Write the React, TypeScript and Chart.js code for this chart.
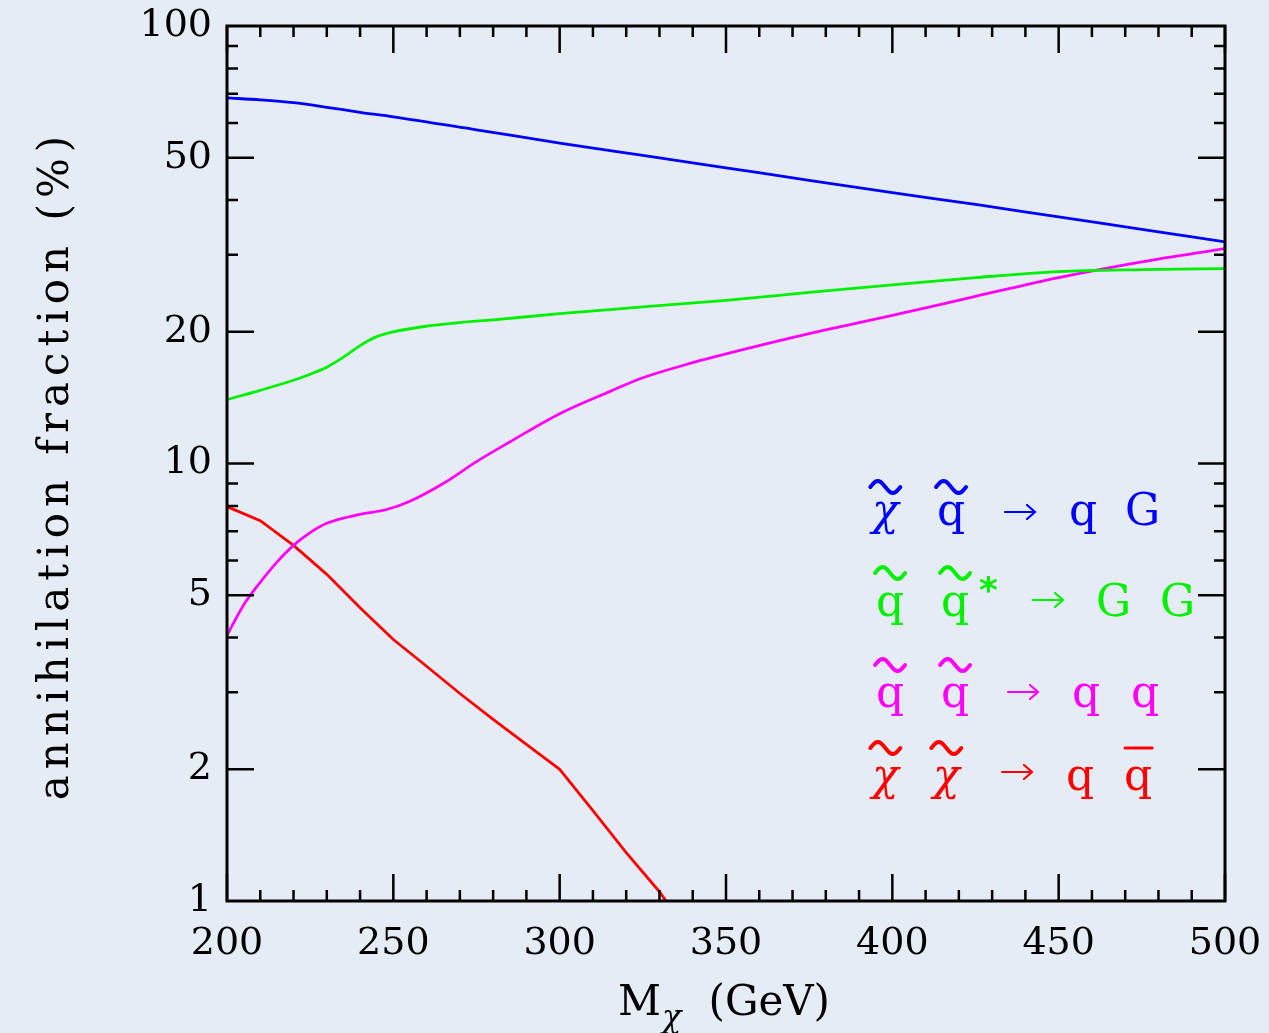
import React, { useEffect, useRef } from 'react';
import { Chart, registerables } from 'chart.js';

Chart.register(...registerables);

// ---- data ----
const blueMass = [200, 210, 220, 230, 240, 250, 275, 300, 325, 350, 375, 400, 425, 450, 475, 500];
const blueFraction = [68.5, 67.8, 66.8, 65.2, 63.5, 62.0, 57.9, 54.0, 50.6, 47.4, 44.4, 41.6, 39.1, 36.6, 34.3, 32.1];

const greenMass = [200, 210, 220, 225, 230, 235, 240, 245, 250, 260, 270, 280, 300, 325, 350, 375, 400, 425, 450, 475, 500];
const greenFraction = [14.0, 14.7, 15.5, 16.0, 16.6, 17.5, 18.6, 19.5, 20.0, 20.6, 21.0, 21.3, 22.0, 22.8, 23.6, 24.6, 25.6, 26.6, 27.45, 27.75, 27.9];

const magentaMass = [200, 205, 210, 215, 220, 225, 230, 240, 248, 255, 265, 275, 285, 300, 315, 325, 340, 350, 375, 400, 425, 450, 475, 500];
const magentaFraction = [4.05, 4.75, 5.35, 5.95, 6.5, 6.95, 7.3, 7.65, 7.85, 8.2, 9.0, 10.1, 11.2, 13.0, 14.6, 15.7, 17.0, 17.8, 19.8, 21.8, 24.1, 26.6, 28.9, 31.0];

const redMass = [200, 210, 220, 230, 240, 250, 260, 270, 280, 290, 300, 310, 320, 330, 340];
const redFraction = [7.97, 7.4, 6.5, 5.58, 4.68, 3.96, 3.44, 2.98, 2.6, 2.28, 2.0, 1.61, 1.29, 1.05, 0.82];

const xTickLabels = [200, 250, 300, 350, 400, 450, 500];
const yTickLabels = [1, 2, 5, 10, 20, 50, 100];
const xMinorTicks = [210, 220, 230, 240, 260, 270, 280, 290, 310, 320, 330, 340, 360, 370, 380, 390, 410, 420, 430, 440, 460, 470, 480, 490];
const yMinorTicks = [3, 4, 6, 7, 8, 9, 30, 40, 60, 70, 80, 90];
const yMajorTicks = [2, 5, 10, 20, 50];

const xTitleMain = 'M';
const xTitleSub = 'χ';
const xTitleUnit = '(GeV)';
const yTitle = 'annihilation fraction (%)';

const BLUE = '#0000ff';
const GREEN = '#00f000';
const MAGENTA = '#ff00ff';
const RED = '#ff0000';

const toPoints = (xs: number[], ys: number[]) => xs.map((x, i) => ({ x, y: ys[i] }));

const SERIF = '"DejaVu Serif", serif';

function drawTilde(ctx: CanvasRenderingContext2D, x0: number, cy: number, w: number) {
  ctx.beginPath();
  const n = 24;
  for (let i = 0; i <= n; i++) {
    const t = i / n;
    const x = x0 + t * w;
    const y = cy - 6 * Math.sin(2 * Math.PI * t);
    if (i === 0) ctx.moveTo(x, y);
    else ctx.lineTo(x, y);
  }
  ctx.stroke();
}

function drawArrow(ctx: CanvasRenderingContext2D, x0: number, cy: number, w: number) {
  ctx.lineWidth = 2.2;
  ctx.beginPath();
  ctx.moveTo(x0, cy);
  ctx.lineTo(x0 + w, cy);
  ctx.moveTo(x0 + w - 8, cy - 7);
  ctx.lineTo(x0 + w, cy);
  ctx.lineTo(x0 + w - 8, cy + 7);
  ctx.stroke();
}

const framePlugin = {
  id: 'frameTicks',
  afterDatasetsDraw(chart: any) {
    const { ctx, chartArea, scales } = chart;
    const { left, right, top, bottom } = chartArea;
    const xs = scales.x;
    const ys = scales.y;
    ctx.save();
    ctx.strokeStyle = '#000';
    ctx.lineCap = 'butt';
    ctx.lineWidth = 2.5;
    const major = 27;
    const minor = 11;
    ctx.beginPath();
    xTickLabels.forEach((v) => {
      const px = xs.getPixelForValue(v);
      ctx.moveTo(px, bottom); ctx.lineTo(px, bottom - major);
      ctx.moveTo(px, top); ctx.lineTo(px, top + major);
    });
    xMinorTicks.forEach((v) => {
      const px = xs.getPixelForValue(v);
      ctx.moveTo(px, bottom); ctx.lineTo(px, bottom - minor);
      ctx.moveTo(px, top); ctx.lineTo(px, top + minor);
    });
    yMajorTicks.forEach((v) => {
      const py = ys.getPixelForValue(v);
      ctx.moveTo(left, py); ctx.lineTo(left + major, py);
      ctx.moveTo(right, py); ctx.lineTo(right - major, py);
    });
    yMinorTicks.forEach((v) => {
      const py = ys.getPixelForValue(v);
      ctx.moveTo(left, py); ctx.lineTo(left + minor, py);
      ctx.moveTo(right, py); ctx.lineTo(right - minor, py);
    });
    ctx.stroke();
    ctx.lineWidth = 3;
    ctx.strokeRect(left, top, right - left, bottom - top);

    // axis titles
    ctx.fillStyle = '#000';
    ctx.textBaseline = 'alphabetic';
    ctx.textAlign = 'left';
    ctx.font = `42px ${SERIF}`;
    ctx.fillText(xTitleMain, 618, 1015);
    const mW = ctx.measureText(xTitleMain).width;
    ctx.font = `italic 32px ${SERIF}`;
    ctx.fillText(xTitleSub, 618 + mW + 1, 1027);
    ctx.font = `42px ${SERIF}`;
    ctx.textAlign = 'right';
    ctx.fillText(xTitleUnit, 830, 1015);

    ctx.save();
    ctx.translate(68, 465);
    ctx.rotate(-Math.PI / 2);
    ctx.font = `42px ${SERIF}`;
    (ctx as any).letterSpacing = '6px';
    ctx.textAlign = 'center';
    ctx.fillText(yTitle, 0, 0);
    ctx.restore();
    ctx.restore();
  },
};

type Glyph = { t: string; x: number; font?: string; tilde?: boolean; bar?: boolean; dy?: number; arrow?: boolean };
type Row = { color: string; base: number; tildeY: number; arrowY: number; glyphs: Glyph[] };

const Q = `44px ${SERIF}`;
const G = `44px ${SERIF}`;
const CHI = `italic 44px ${SERIF}`;
const STAR = `bold 36px "DejaVu Sans", sans-serif`;

const legendRows: Row[] = [
  {
    color: BLUE, base: 525, tildeY: 487, arrowY: 512,
    glyphs: [
      { t: 'χ', x: 872, font: CHI, tilde: true },
      { t: 'q', x: 937, font: Q, tilde: true },
      { t: '→', x: 1005, arrow: true },
      { t: 'q', x: 1069, font: Q },
      { t: 'G', x: 1125, font: G },
    ],
  },
  {
    color: GREEN, base: 616, tildeY: 573, arrowY: 600,
    glyphs: [
      { t: 'q', x: 876, font: Q, tilde: true },
      { t: 'q', x: 941, font: Q, tilde: true },
      { t: '*', x: 979, font: STAR, dy: -14 },
      { t: '→', x: 1033, arrow: true },
      { t: 'G', x: 1096, font: G },
      { t: 'G', x: 1160, font: G },
    ],
  },
  {
    color: MAGENTA, base: 707, tildeY: 665, arrowY: 692,
    glyphs: [
      { t: 'q', x: 876, font: Q, tilde: true },
      { t: 'q', x: 941, font: Q, tilde: true },
      { t: '→', x: 1008, arrow: true },
      { t: 'q', x: 1072, font: Q },
      { t: 'q', x: 1131, font: Q },
    ],
  },
  {
    color: RED, base: 790, tildeY: 748, arrowY: 772,
    glyphs: [
      { t: 'χ', x: 872, font: CHI, tilde: true },
      { t: 'χ', x: 933, font: CHI, tilde: true },
      { t: '→', x: 1002, arrow: true },
      { t: 'q', x: 1066, font: Q },
      { t: 'q', x: 1124, font: Q, bar: true },
    ],
  },
];

const legendPlugin = {
  id: 'processLegend',
  afterDraw(chart: any) {
    const ctx: CanvasRenderingContext2D = chart.ctx;
    ctx.save();
    ctx.textAlign = 'left';
    ctx.lineCap = 'round';
    legendRows.forEach((row) => {
      ctx.fillStyle = row.color;
      ctx.strokeStyle = row.color;
      row.glyphs.forEach((g) => {
        if (g.arrow) {
          drawArrow(ctx, g.x, row.arrowY, 30);
          return;
        }
        ctx.font = g.font as string;
        ctx.textBaseline = 'alphabetic';
        ctx.fillText(g.t, g.x, row.base + (g.dy || 0));
        const w = ctx.measureText(g.t).width;
        if (g.tilde) {
          ctx.lineWidth = 4;
          drawTilde(ctx, g.x + w / 2 - 15, row.tildeY, 30);
        }
        if (g.bar) {
          ctx.lineWidth = 3;
          ctx.beginPath();
          ctx.moveTo(g.x + 1, row.tildeY);
          ctx.lineTo(g.x + w, row.tildeY);
          ctx.stroke();
        }
      });
    });
    ctx.restore();
  },
};

export default function App() {
  const ref = useRef<HTMLCanvasElement | null>(null);

  useEffect(() => {
    document.body.style.margin = '0';
    document.body.style.background = '#e6ecf5';
    if (!ref.current) return;
    const chart = new Chart(ref.current, {
      type: 'line',
      data: {
        datasets: [
          { data: toPoints(blueMass, blueFraction), borderColor: BLUE, borderWidth: 2.8, pointRadius: 0, cubicInterpolationMode: 'monotone' },
          { data: toPoints(greenMass, greenFraction), borderColor: GREEN, borderWidth: 2.8, pointRadius: 0, cubicInterpolationMode: 'monotone' },
          { data: toPoints(magentaMass, magentaFraction), borderColor: MAGENTA, borderWidth: 2.8, pointRadius: 0, cubicInterpolationMode: 'monotone' },
          { data: toPoints(redMass, redFraction), borderColor: RED, borderWidth: 2.8, pointRadius: 0, tension: 0 },
        ] as any,
      },
      options: {
        animation: false,
        responsive: false,
        maintainAspectRatio: false,
        layout: { padding: { left: 0, right: 44, top: 26, bottom: 0 } },
        plugins: { legend: { display: false }, tooltip: { enabled: false } },
        scales: {
          x: {
            type: 'linear',
            min: 200,
            max: 500,
            grid: { display: false, drawTicks: false, tickLength: 0 },
            border: { display: false },
            ticks: {
              stepSize: 50,
              autoSkip: false,
              maxRotation: 0,
              color: '#000',
              padding: 20,
              font: { family: 'DejaVu Serif', size: 38 },
              callback: (v: any) => (xTickLabels.includes(Number(v)) ? String(v) : ''),
            },
            afterFit: (s: any) => { s.height = 1033 - 901; s.paddingLeft = 0; s.paddingRight = 0; },
          },
          y: {
            type: 'logarithmic',
            min: 1,
            max: 100,
            grid: { display: false, drawTicks: false, tickLength: 0 },
            border: { display: false },
            ticks: {
              autoSkip: false,
              color: '#000',
              padding: 15,
              font: { family: 'DejaVu Serif', size: 38 },
              callback: (v: any) => {
                const n = Number(v);
                return yTickLabels.some((t) => Math.abs(t - n) < 1e-6) ? String(Math.round(n)) : '';
              },
            },
            afterFit: (s: any) => { s.width = 227; s.paddingTop = 0; s.paddingBottom = 0; },
          },
        },
      } as any,
      plugins: [framePlugin, legendPlugin],
    });
    return () => chart.destroy();
  }, []);

  return (
    <div style={{ position: 'absolute', left: 0, top: 0, width: 1269, height: 1033, background: '#e6ecf5' }}>
      <canvas ref={ref} width={1269} height={1033} style={{ width: 1269, height: 1033, display: 'block' }} />
    </div>
  );
}
